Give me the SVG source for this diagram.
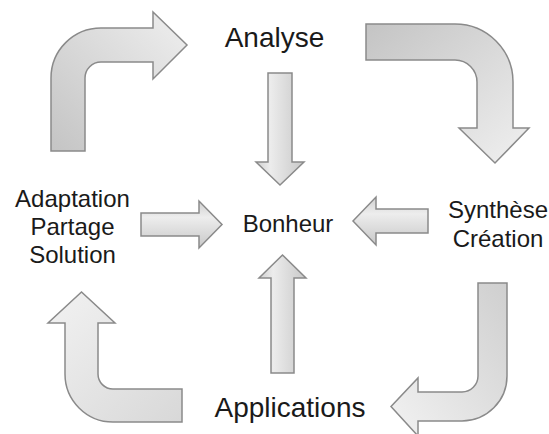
<svg xmlns="http://www.w3.org/2000/svg" width="549" height="434" viewBox="0 0 549 434">
<defs>
<linearGradient id="gTL" x1="0" y1="1" x2="1" y2="0"><stop offset="0" stop-color="#c4c4c4"/><stop offset="1" stop-color="#efefef"/></linearGradient>
<linearGradient id="gTR" x1="0" y1="0" x2="1" y2="1"><stop offset="0" stop-color="#c4c4c4"/><stop offset="1" stop-color="#f0f0f0"/></linearGradient>
<linearGradient id="gBR" x1="1" y1="0" x2="0" y2="1"><stop offset="0" stop-color="#cfcfcf"/><stop offset="1" stop-color="#f2f2f2"/></linearGradient>
<linearGradient id="gBL" x1="1" y1="1" x2="0" y2="0"><stop offset="0" stop-color="#d8d8d8"/><stop offset="1" stop-color="#f2f2f2"/></linearGradient>
<linearGradient id="gV" x1="0" y1="0" x2="1" y2="0"><stop offset="0" stop-color="#cfcfcf"/><stop offset="0.3" stop-color="#ececec"/><stop offset="1" stop-color="#c8c8c8"/></linearGradient>
<linearGradient id="gH" x1="0" y1="0" x2="0" y2="1"><stop offset="0" stop-color="#d0d0d0"/><stop offset="0.35" stop-color="#ededed"/><stop offset="1" stop-color="#c8c8c8"/></linearGradient>
</defs>
<style>
.arr{stroke:#8a8a8a;stroke-width:1.5;stroke-linejoin:miter}
.t{font-family:"Liberation Sans",Arial,sans-serif;fill:#1a1a1a;text-anchor:middle}
.big{font-size:28px}
.mid{font-size:24px}
</style>
<rect width="549" height="434" fill="#ffffff"/>
<g id="connectors">
<path class="arr" fill="url(#gTL)" d="M51,151 L51,78 A50,50 0 0 1 101,28 L153,28 L153,12 L187,45 L153,79 L153,62 L101,62 A16,16 0 0 0 85,78 L85,151 Z"/>
<path class="arr" fill="url(#gTR)" d="M366,24 L455,24 A58,58 0 0 1 513,82 L513,128 L529,128 L495,163 L459,128 L477,128 L477,82 A22,22 0 0 0 455,60 L366,60 Z"/>
<path class="arr" fill="url(#gBR)" d="M478,283 L507,283 L507,376 A45,45 0 0 1 462,421 L418,421 L418,436 L391,406.5 L418,378 L418,392 L462,392 A16,16 0 0 0 478,376 Z"/>
<path class="arr" fill="url(#gBL)" d="M182,389 L113,389 A15,15 0 0 1 98,374 L98,323 L115,323 L81.5,292 L48,323 L65,323 L65,374 A48,48 0 0 0 113,422 L182,422 Z"/>
<path class="arr" fill="url(#gV)" d="M268,73 L292,73 L292,162 L304,162 L280,185 L256,162 L268,162 Z"/>
<path class="arr" fill="url(#gH)" d="M141,213 L199,213 L199,201 L222,224.5 L199,248 L199,236 L141,236 Z"/>
<path class="arr" fill="url(#gH)" d="M428,209 L376,209 L376,197 L353,221 L376,245 L376,233 L428,233 Z"/>
<path class="arr" fill="url(#gV)" d="M271,373 L271,278 L259,278 L282.5,255 L306,278 L294,278 L294,373 Z"/>
</g>
<g id="analyse"><text class="t big" x="274.5" y="47">Analyse</text></g>
<g id="synthese"><text class="t mid" x="498" y="218">Synthèse</text><text class="t mid" x="498" y="247">Création</text></g>
<g id="applications"><text class="t big" x="290" y="417">Applications</text></g>
<g id="adaptation"><text class="t mid" x="72.5" y="207">Adaptation</text><text class="t mid" x="72.5" y="235">Partage</text><text class="t mid" x="72.5" y="263">Solution</text></g>
<g id="bonheur"><text class="t mid" x="288" y="232">Bonheur</text></g>
</svg>
